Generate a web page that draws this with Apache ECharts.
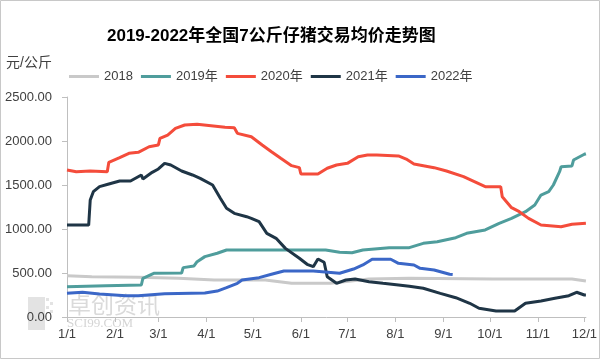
<!DOCTYPE html>
<html>
<head>
<meta charset="utf-8">
<script src="https://cdn.jsdelivr.net/npm/echarts@6/dist/echarts.min.js"></script>
<style>html,body{margin:0;padding:0;background:#fff;}#c{width:600px;height:359px;}</style>
</head>
<body>
<div id="c"></div>
<script>
// ---- data (day labels M/D, values in 元/公斤 as drawn) ----
const monthLengths = [31,28,31,30,31,30,31,31,30,31,30,31];
const yTicks = [0, 500, 1000, 1500, 2000, 2500];
const seriesNames = ['2018', '2019年', '2020年', '2021年', '2022年'];

const dates2018 = ['1/1','1/17','2/16','3/14','4/6','5/9','5/26','6/20','7/15','8/10','10/3','11/23','12/2'];
const values2018 = [470,458,451,440,420,420,383,383,432,440,432,432,409];

const dates2019 = ['1/1','1/26','2/18','2/19','2/26','3/16','3/17','3/24','3/26','3/31','4/8','4/14','6/17','6/26','7/4','7/11','7/28','8/10','8/19','8/28','9/9','9/16','9/28','10/7','10/15','10/24','10/30','11/3','11/8','11/11','11/15','11/16','11/23','11/24','12/1','12/2'];
const values2019 = [344,356,364,440,497,500,561,580,629,686,724,761,761,735,731,761,788,788,837,856,901,951,989,1065,1121,1197,1273,1386,1424,1500,1651,1708,1716,1784,1849,1855];

const dates2020 = ['1/1','1/7','1/16','1/27','1/28','2/4','2/10','2/16','2/23','3/1','3/2','3/7','3/12','3/18','3/26','4/4','4/13','4/19','4/21','4/30','5/7','5/13','5/19','5/26','5/31','6/1','6/12','6/18','6/24','7/1','7/8','7/14','7/20','8/3','8/8','8/13','8/26','9/3','9/14','9/21','9/28','10/8','10/9','10/15','10/20','10/26','11/3','11/16','11/23','12/2'];
const values2020 = [1670,1650,1660,1650,1758,1810,1860,1871,1935,1955,2030,2068,2144,2182,2190,2174,2156,2150,2087,2049,1955,1878,1803,1720,1697,1625,1625,1690,1727,1746,1822,1841,1841,1830,1795,1739,1697,1659,1595,1538,1481,1481,1367,1242,1197,1121,1045,1026,1053,1065];

const dates2021 = ['1/1','1/15','1/16','1/18','1/22','1/28','2/4','2/11','2/18','2/19','2/25','3/1','3/5','3/9','3/16','3/23','3/28','4/5','4/10','4/14','4/19','4/27','4/30','5/5','5/10','5/16','5/22','5/31','6/5','6/9','6/12','6/16','6/18','6/24','6/30','7/6','7/15','7/24','8/3','8/10','8/19','8/30','9/9','9/18','9/24','10/5','10/17','10/24','11/3','11/12','11/21','11/26','12/1','12/2'];
const values2021 = [1045,1045,1330,1424,1481,1511,1545,1545,1614,1568,1644,1682,1746,1727,1659,1614,1576,1500,1349,1235,1178,1140,1121,1083,951,894,780,667,599,572,659,622,458,383,420,432,401,383,364,350,326,269,219,156,99,68,68,156,182,212,242,281,250,250];

const dates2022 = ['1/1','1/11','1/22','2/8','2/16','3/5','3/31','4/8','4/14','4/21','4/24','5/5','5/13','5/21','6/9','6/26','7/5','7/11','7/17','7/29','8/3','8/13','8/17','8/26','9/5','9/7'];
const values2022 = [269,281,261,242,242,265,273,295,333,383,420,447,485,523,523,497,545,591,656,656,610,591,553,534,485,482];

const colors = ['#c9c9c9', '#4f9d9c', '#f44c3b', '#1f3546', '#3b67c7'];

// categories: every day of the year through 12/2
const categories = [];
for (let m = 0; m < 12; m++) {
  for (let d = 1; d <= monthLengths[m]; d++) {
    categories.push((m + 1) + '/' + d);
    if (m === 11 && d === 2) break;
  }
}
const zip = (a, b) => a.map((x, i) => [x, b[i]]);
const seriesData = [zip(dates2018, values2018), zip(dates2019, values2019), zip(dates2020, values2020), zip(dates2021, values2021), zip(dates2022, values2022)];

const isMonthStart = (idx, val) => /\/1$/.test(val);
const FONT = '"Liberation Sans", "Noto Sans CJK SC", sans-serif';

const chart = echarts.init(document.getElementById('c'), null, {renderer: 'canvas'});
chart.setOption({
  animation: false,
  backgroundColor: '#fff',
  color: colors,
  title: {
    text: '2019-2022年全国7公斤仔猪交易均价走势图',
    left: 102, top: 23,
    textStyle: {fontSize: 17, fontWeight: 'bold', color: '#000', fontFamily: FONT}
  },
  legend: {
    data: seriesNames,
    left: 64, top: 65,
    icon: 'rect', itemWidth: 30, itemHeight: 3, itemGap: 8,
    textStyle: {fontSize: 13, color: '#404040', fontFamily: FONT}
  },
  grid: {left: 67, right: 5, top: 97, bottom: 42},
  xAxis: {
    type: 'category',
    data: categories,
    boundaryGap: false,
    axisLine: {lineStyle: {color: '#bfbfbf', width: 1}},
    axisTick: {show: true, interval: isMonthStart, length: 5, lineStyle: {color: '#bfbfbf'}},
    axisLabel: {interval: isMonthStart, margin: 11, fontSize: 13, color: '#404040', fontFamily: FONT},
    splitLine: {show: false}
  },
  yAxis: {
    type: 'value',
    min: yTicks[0], max: yTicks[yTicks.length - 1], interval: 500,
    axisLine: {show: true, lineStyle: {color: '#bfbfbf', width: 1}},
    axisTick: {show: true, length: 5, lineStyle: {color: '#bfbfbf'}},
    axisLabel: {formatter: v => v.toFixed(2), margin: 15, fontSize: 13, color: '#404040', fontFamily: FONT},
    splitLine: {show: false}
  },
  graphic: [
    {type: 'rect', z: -10, shape: {x: 0.5, y: 0.5, width: 599, height: 358}, style: {fill: 'none', stroke: '#c8c8c8', lineWidth: 1}},
    {type: 'text', left: 6, top: 56, style: {text: '元/公斤', fontSize: 14, fill: '#404040', fontFamily: FONT}},
    {type: 'rect', z: -5, shape: {x: 28, y: 297, width: 17, height: 33}, style: {fill: '#e3e3e3'}},
    {type: 'rect', z: -5, shape: {x: 46, y: 298, width: 3, height: 3}, style: {fill: '#e3e3e3'}},
    {type: 'rect', z: -5, shape: {x: 50, y: 302, width: 3, height: 3}, style: {fill: '#e3e3e3'}},
    {type: 'rect', z: -5, shape: {x: 46, y: 306, width: 3, height: 3}, style: {fill: '#e3e3e3'}},
    {type: 'rect', z: -5, shape: {x: 50, y: 310, width: 3, height: 3}, style: {fill: '#e3e3e3'}},
    {type: 'text', z: -5, left: 68, top: 293, style: {text: '卓创资讯', fontSize: 23, fill: '#dadada', fontFamily: '"Noto Sans CJK SC", sans-serif'}},
    {type: 'text', z: -5, left: 67, top: 317, style: {text: 'SCI99.COM', fontSize: 13, fill: '#d5d5d5', fontFamily: '"Liberation Serif", serif'}}
  ],
  series: seriesNames.map((name, i) => ({
    name: name,
    type: 'line',
    data: seriesData[i],
    showSymbol: false,
    symbol: 'none',
    lineStyle: {width: 3, color: colors[i]},
    itemStyle: {color: colors[i]},
    z: 2 + i
  }))
});
</script>
</body>
</html>
